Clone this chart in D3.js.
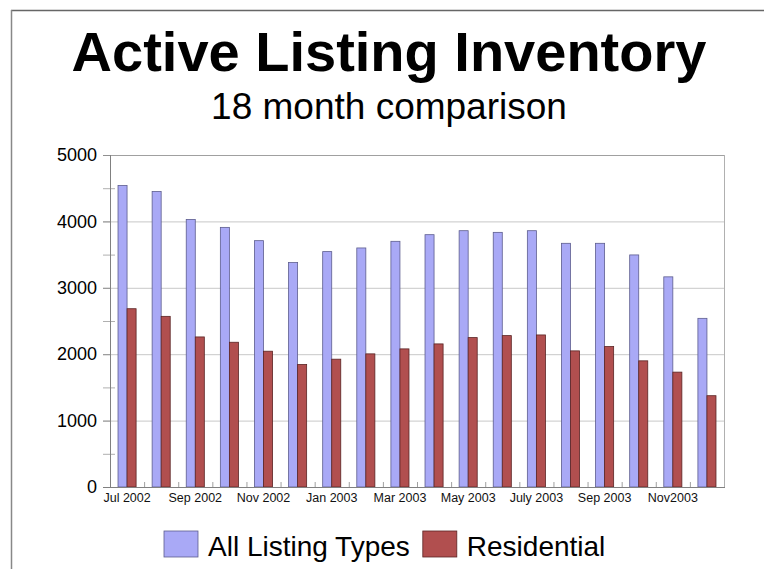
<!DOCTYPE html>
<html>
<head>
<meta charset="utf-8">
<script src="https://cdn.jsdelivr.net/npm/d3@7"></script>
<style>
  body { margin: 0; background: #fff; }
  svg { display: block; font-family: "Liberation Sans", Arial, sans-serif; }
</style>
</head>
<body>
<div id="main"></div>
<script>
// data
const months = ["Jul 2002", "Aug 2002", "Sep 2002", "Oct 2002", "Nov 2002", "Dec 2002",
    "Jan 2003", "Feb 2003", "Mar 2003", "Apr 2003", "May 2003", "Jun 2003",
    "Jul 2003", "Aug 2003", "Sep 2003", "Oct 2003", "Nov 2003", "Dec 2003"];
const xTickLabels = ["Jul 2002", "", "Sep 2002", "", "Nov 2002", "", "Jan 2003", "", "Mar 2003", "",
    "May 2003", "", "July 2003", "", "Sep 2003", "", "Nov2003", ""];
const allListings = [4540, 4450, 4030, 3910, 3710, 3380, 3545, 3600, 3700, 3800,
    3860, 3835, 3860, 3670, 3670, 3495, 3165, 2540];
const residential = [2685, 2570, 2260, 2180, 2045, 1845, 1925, 2005, 2080, 2155,
    2250, 2280, 2290, 2050, 2115, 1900, 1730, 1375];
const seriesNames = ["All Listing Types", "Residential"];
const yTicks = [0, 1000, 2000, 3000, 4000, 5000];
const yMinorTicks = [500, 1500, 2500, 3500, 4500];

// dimensions
const svg_width = 764,
    svg_height = 569;
const plot = {left: 110, right: 724, top: 155, bottom: 487};

const fills = ["#a9a9f6", "#b14f4f"],
    strokes = ["#5d5d8e", "#5a2424"];

var svg = d3.select("#main").append("svg")
    .attr("width", svg_width)
    .attr("height", svg_height);

// slide frame
svg.append("line").attr("x1", 11).attr("x2", svg_width).attr("y1", 10.5).attr("y2", 10.5)
    .attr("stroke", "#666").attr("stroke-width", 1.5);
svg.append("line").attr("x1", 11.5).attr("x2", 11.5).attr("y1", 10).attr("y2", svg_height)
    .attr("stroke", "#888").attr("stroke-width", 1.5);

// titles
svg.append("text")
    .attr("x", 389).attr("y", 71)
    .attr("text-anchor", "middle")
    .style("font-size", "56px").style("font-weight", "bold")
    .text("Active Listing Inventory");
svg.append("text")
    .attr("x", 389).attr("y", 119)
    .attr("text-anchor", "middle")
    .style("font-size", "37px")
    .text("18 month comparison");

// scales
var x = d3.scaleBand()
    .domain(months)
    .range([plot.left, plot.right])
    .paddingInner(0.47)
    .paddingOuter(0.235);
var xSeries = d3.scaleBand()
    .domain(seriesNames)
    .range([0, x.bandwidth()]);
var y = d3.scaleLinear()
    .domain([0, 5000])
    .range([plot.bottom, plot.top]);

// gridlines
svg.append("g").selectAll("line")
    .data(yTicks.slice(1))
    .enter().append("line")
    .attr("x1", plot.left - 7).attr("x2", plot.right)
    .attr("y1", d => y(d) + 0.5).attr("y2", d => y(d) + 0.5)
    .attr("stroke", d => d === 5000 ? "#a0a0a0" : "#c8c8c8");

// minor ticks
svg.append("g").selectAll("line")
    .data(yMinorTicks)
    .enter().append("line")
    .attr("x1", plot.left - 7).attr("x2", plot.left + 5)
    .attr("y1", d => y(d) + 0.5).attr("y2", d => y(d) + 0.5)
    .attr("stroke", "#b0b0b0");

// right border
svg.append("line")
    .attr("x1", plot.right + 0.5).attr("x2", plot.right + 0.5)
    .attr("y1", plot.top).attr("y2", plot.bottom + 1)
    .attr("stroke", "#b0b0b0");

// bars
var rows = months.map((m, i) => ({month: m, values: [allListings[i], residential[i]]}));
var groups = svg.append("g").selectAll("g")
    .data(rows)
    .enter().append("g")
    .attr("transform", d => `translate(${x(d.month)},0)`);
groups.selectAll("rect")
    .data(d => d.values.map((v, j) => ({key: seriesNames[j], j: j, value: v})))
    .enter().append("rect")
    .attr("x", d => xSeries(d.key))
    .attr("width", xSeries.bandwidth())
    .attr("y", d => y(d.value))
    .attr("height", d => y(0) - y(d.value))
    .attr("fill", d => fills[d.j])
    .attr("stroke", d => strokes[d.j])
    .attr("stroke-width", 0.8);

// y-axis
var yAxis = svg.append("g")
    .attr("transform", `translate(${plot.left},0)`)
    .call(d3.axisLeft(y).tickValues(yTicks).tickSize(7).tickPadding(6).tickFormat(d3.format("d")));
yAxis.select(".domain").remove();
yAxis.selectAll(".tick line").attr("stroke", "#909090");
yAxis.selectAll("text").style("font-size", "18px").attr("fill", "#000");
svg.append("line")
    .attr("x1", plot.left + 0.5).attr("x2", plot.left + 0.5)
    .attr("y1", plot.top).attr("y2", plot.bottom + 1)
    .attr("stroke", "#808080");

// x-axis
var xAxis = svg.append("g")
    .attr("transform", `translate(0,${plot.bottom})`)
    .call(d3.axisBottom(x).tickSize(0).tickPadding(6).tickFormat((d, i) => xTickLabels[i]));
xAxis.select(".domain").remove();
xAxis.selectAll("text").style("font-size", "12.5px").attr("fill", "#111");
svg.append("line")
    .attr("x1", plot.left - 7).attr("x2", plot.right + 1)
    .attr("y1", plot.bottom + 0.5).attr("y2", plot.bottom + 0.5)
    .attr("stroke", "#808080");

// boundary ticks between months
var step = x.step(),
    offset = (step - x.bandwidth()) / 2;
svg.append("g").selectAll("line")
    .data(months.slice(1))
    .enter().append("line")
    .attr("x1", d => x(d) - offset + 0.5).attr("x2", d => x(d) - offset + 0.5)
    .attr("y1", plot.bottom - 5).attr("y2", plot.bottom)
    .attr("stroke", "#a0a0a0");

// legend
var legend = svg.append("g");
var lx = 164;
seriesNames.forEach(function (name, j) {
    legend.append("rect")
        .attr("x", lx).attr("y", 531)
        .attr("width", 34).attr("height", 26)
        .attr("fill", fills[j])
        .attr("stroke", strokes[j])
        .attr("stroke-width", 0.8);
    var t = legend.append("text")
        .attr("x", lx + 44).attr("y", 556)
        .style("font-size", "28px")
        .text(name);
    lx += 44 + t.node().getComputedTextLength() + 13;
});
</script>
</body>
</html>
